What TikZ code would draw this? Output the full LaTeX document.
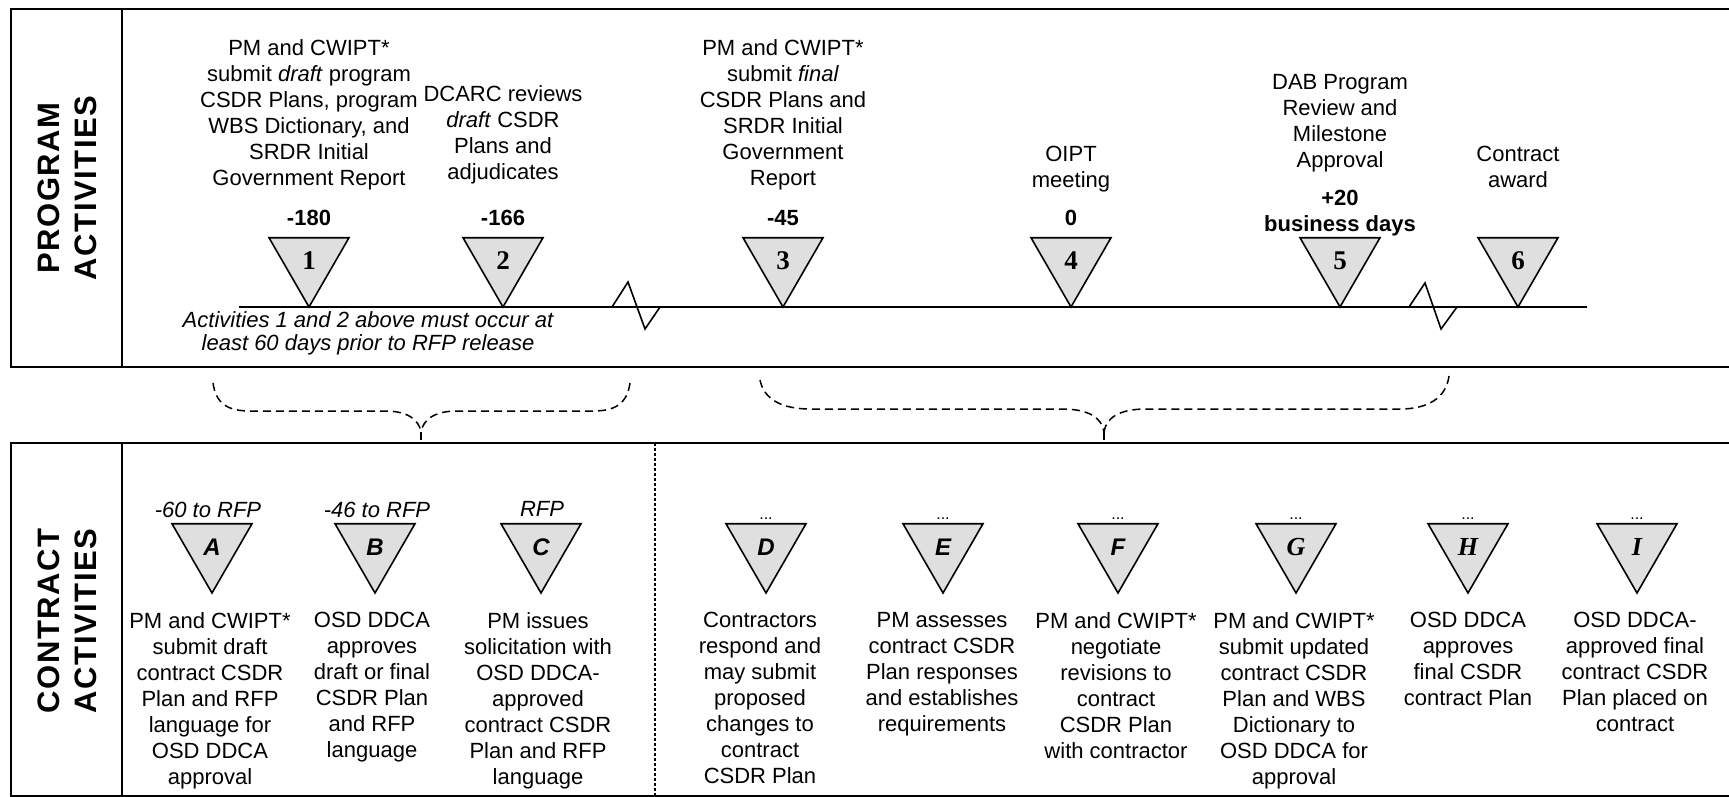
\documentclass[tikz,border=0pt]{standalone}
\usepackage{fontspec}
\setmainfont{Liberation Sans}
\newfontfamily\numfont{Liberation Serif}
\usetikzlibrary{shapes.geometric}

\tikzset{
  frame/.style={line width=1pt},
  axis/.style={line width=0.8pt},
  split/.style={line width=0.6pt, dash pattern=on 1.5pt off 1pt},
  link/.style={line width=0.75pt, dash pattern=on 4pt off 2.5pt},
  side/.style={rotate=90, align=center, inner sep=0pt,
    font=\fontsize{15.5}{18.5}\selectfont\bfseries\addfontfeature{LetterSpace=5}},
  marker/.style={regular polygon, regular polygon sides=3, shape border rotate=180,
    draw, fill=gray!25, line width=0.8pt, minimum size=46.2pt,
    inner sep=0pt, outer sep=0pt, anchor=corner 1},
  mnum/.style={font=\numfont\fontsize{13.5}{14}\selectfont\bfseries},
  mlet/.style={font=\fontsize{12}{13}\selectfont\bfseries\itshape},
  mlets/.style={font=\numfont\fontsize{13}{14}\selectfont\bfseries\itshape},
  desc/.style={align=center, inner sep=0pt, font=\fontsize{11}{13}\selectfont},
  day/.style={align=center, inner sep=0pt, font=\fontsize{11}{13}\selectfont\bfseries},
  when/.style={inner sep=0pt, font=\fontsize{11}{13}\selectfont\itshape},
  dots/.style={inner sep=0pt, anchor=base, font=\fontsize{8}{9}\selectfont},
  note/.style={align=center, inner sep=0pt, font=\fontsize{11}{11.5}\selectfont\itshape}
}

\begin{document}
\begin{tikzpicture}[x=0.5pt,y=-0.5pt]
\useasboundingbox (0,0) rectangle (1729,797);

% program panel
\draw[frame] (1729,9) -- (11,9) -- (11,367) -- (1729,367);
\draw[frame] (122,9) -- (122,367);
\node[side] (prog) at (67,188) {PROGRAM\\ACTIVITIES};

% contract panel
\draw[frame] (1729,443) -- (11,443) -- (11,796) -- (1729,796);
\draw[frame] (122,443) -- (122,796);
\draw[split] (655,443) -- (655,796);
\node[side] (cont) at (67,621) {CONTRACT\\ACTIVITIES};

% time line with breaks
\coordinate (tstart) at (239,307);
\coordinate (tend) at (1587,307);
\draw[axis] (tstart) -- (tend);
\draw[axis] (612,307) -- (628,282) -- (645,329) -- (660,307);
\draw[axis] (1409,307) -- (1425,283) -- (1441,329) -- (1457,307);

% program milestones
\node[marker, mnum] (m1) at (309,307) {1};
\node[marker, mnum] (m2) at (503,307) {2};
\node[marker, mnum] (m3) at (783,307) {3};
\node[marker, mnum] (m4) at (1071,307) {4};
\node[marker, mnum] (m5) at (1340,307) {5};
\node[marker, mnum] (m6) at (1518,307) {6};

\node[day] (n1) at (309,218) {-180};
\node[day] (n2) at (503,218) {-166};
\node[day] (n3) at (783,218) {-45};
\node[day] (n4) at (1071,218) {0};
\node[day, anchor=north] (n5) at (1340,190) {+20\\business days};

\node[desc, anchor=north] (d1) at (309,39) {PM and CWIPT*\\submit \textit{draft} program\\CSDR Plans, program\\WBS Dictionary, and\\SRDR Initial\\Government Report};
\node[desc, anchor=north] (d2) at (503,85) {DCARC reviews\\\textit{draft} CSDR\\Plans and\\adjudicates};
\node[desc, anchor=north] (d3) at (783,39) {PM and CWIPT*\\submit \textit{final}\\CSDR Plans and\\SRDR Initial\\Government\\Report};
\node[desc, anchor=north] (d4) at (1071,146) {OIPT\\meeting};
\node[desc, anchor=north] (d5) at (1340,74) {DAB Program\\Review and\\Milestone\\Approval};
\node[desc, anchor=north] (d6) at (1518,146) {Contract\\award};

\node[note] (rule) at (368,333) {Activities 1 and 2 above must occur at\\least 60 days prior to RFP release};

% links between the panels
\coordinate (lbl) at (213,383);
\coordinate (lbr) at (630,383);
\coordinate (lbt) at (421,432);
\coordinate (lbe) at (421,443);
\draw[link] (lbl) .. controls (216,404) and (228,411) .. (250,411) -- (385,411) .. controls (408,411) and (419,420) .. (lbt);
\draw[link] (lbr) .. controls (627,404) and (615,411) .. (593,411) -- (457,411) .. controls (434,411) and (423,420) .. (lbt);
\draw[link] (lbt) -- (lbe);

\coordinate (rbl) at (760,380);
\coordinate (rbr) at (1449,376);
\coordinate (rbt) at (1104,432);
\coordinate (rbe) at (1104,443);
\draw[link] (rbl) .. controls (764,400) and (783,409) .. (810,409) -- (1062,409) .. controls (1089,409) and (1102,418) .. (rbt);
\draw[link] (rbr) .. controls (1446,398) and (1428,409) .. (1400,409) -- (1146,409) .. controls (1119,409) and (1106,418) .. (rbt);
\draw[link] (rbt) -- (rbe);

% contract milestones
\node[marker, mlet] (ca) at (212,593) {A};
\node[marker, mlet] (cb) at (375,593) {B};
\node[marker, mlet] (cc) at (541,593) {C};
\node[marker, mlet] (cd) at (766,593) {D};
\node[marker, mlet] (ce) at (943,593) {E};
\node[marker, mlet] (cf) at (1118,593) {F};
\node[marker, mlets] (cg) at (1296,593) {G};
\node[marker, mlets] (ch) at (1468,593) {H};
\node[marker, mlets] (ci) at (1637,593) {I};

\node[when] (wa) at (208,510) {-60 to RFP};
\node[when] (wb) at (377,510) {-46 to RFP};
\node[when] (wc) at (542,509) {RFP};
\node[dots] (wd) at (766,519) {...};
\node[dots] (we) at (943,519) {...};
\node[dots] (wf) at (1118,519) {...};
\node[dots] (wg) at (1296,519) {...};
\node[dots] (wh) at (1468,519) {...};
\node[dots] (wi) at (1637,519) {...};

\node[desc, anchor=north] (ta) at (210,612) {PM and CWIPT*\\submit draft\\contract CSDR\\Plan and RFP\\language for\\OSD DDCA\\approval};
\node[desc, anchor=north] (tb) at (372,612) {OSD DDCA\\approves\\draft or final\\CSDR Plan\\and RFP\\language};
\node[desc, anchor=north] (tc) at (538,612) {PM issues\\solicitation with\\OSD DDCA-\\approved\\contract CSDR\\Plan and RFP\\language};
\node[desc, anchor=north] (td) at (760,612) {Contractors\\respond and\\may submit\\proposed\\changes to\\contract\\CSDR Plan};
\node[desc, anchor=north] (te) at (942,612) {PM assesses\\contract CSDR\\Plan responses\\and establishes\\requirements};
\node[desc, anchor=north] (tf) at (1116,612) {PM and CWIPT*\\negotiate\\revisions to\\contract\\CSDR Plan\\with contractor};
\node[desc, anchor=north] (tg) at (1294,612) {PM and CWIPT*\\submit updated\\contract CSDR\\Plan and WBS\\Dictionary to\\OSD DDCA for\\approval};
\node[desc, anchor=north] (th) at (1468,612) {OSD DDCA\\approves\\final CSDR\\contract Plan};
\node[desc, anchor=north] (ti) at (1635,612) {OSD DDCA-\\approved final\\contract CSDR\\Plan placed on\\contract};
\end{tikzpicture}
\end{document}
